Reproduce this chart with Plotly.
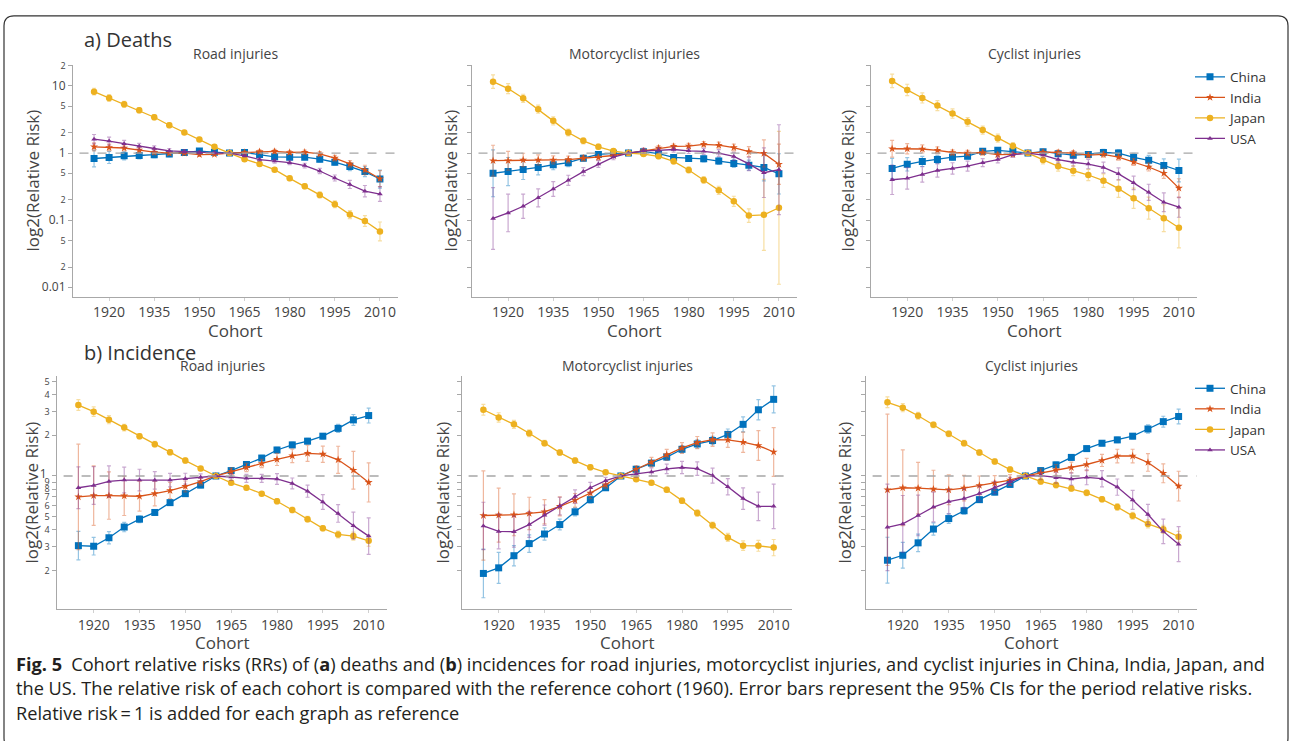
import plotly.graph_objects as go

# ---------------- data ----------------
cohorts = [1915, 1920, 1925, 1930, 1935, 1940, 1945, 1950, 1955, 1960,
           1965, 1970, 1975, 1980, 1985, 1990, 1995, 2000, 2005, 2010]
countries = ["China", "India", "Japan", "USA"]
x_tick_labels = [1920, 1935, 1950, 1965, 1980, 1995, 2010]

# a) Deaths - Road injuries (relative risk)
deaths_road_china = [0.83, 0.86, 0.91, 0.92, 0.945, 0.97, 1.02, 1.07, 1.03, 1.0, 1.02, 0.955, 0.88, 0.87, 0.87, 0.81, 0.73, 0.63, 0.53, 0.41]
deaths_road_india = [1.24, 1.21, 1.19, 1.11, 1.03, 1.0, 1.0, 0.945, 0.955, 1.0, 1.02, 1.05, 1.06, 1.02, 1.03, 0.97, 0.84, 0.69, 0.56, 0.415]
deaths_road_japan = [8.24, 6.63, 5.34, 4.35, 3.42, 2.6, 2.03, 1.6, 1.24, 1.0, 0.81, 0.69, 0.565, 0.42, 0.32, 0.238, 0.173, 0.121, 0.097, 0.068]
deaths_road_usa = [1.61, 1.51, 1.38, 1.26, 1.17, 1.08, 1.05, 1.02, 1.01, 1.0, 0.91, 0.80, 0.76, 0.72, 0.65, 0.54, 0.425, 0.34, 0.27, 0.245]
# 95% CI half-widths in log10 units
deaths_road_china_ci = [0.125, 0.09, 0.06, 0.05, 0.045, 0.04, 0.035, 0.03, 0.025, 0, 0.025, 0.03, 0.03, 0.03, 0.035, 0.04, 0.045, 0.06, 0.075, 0.135]
deaths_road_india_ci = [0.06, 0.05, 0.045, 0.04, 0.035, 0.03, 0.025, 0.025, 0.02, 0, 0.02, 0.025, 0.03, 0.03, 0.03, 0.035, 0.04, 0.05, 0.07, 0.12]
deaths_road_japan_ci = [0.05, 0.05, 0.045, 0.04, 0.04, 0.035, 0.03, 0.03, 0.025, 0, 0.025, 0.03, 0.03, 0.035, 0.04, 0.045, 0.05, 0.06, 0.08, 0.14]
deaths_road_usa_ci = [0.07, 0.06, 0.05, 0.045, 0.04, 0.035, 0.03, 0.025, 0.02, 0, 0.02, 0.025, 0.03, 0.03, 0.035, 0.04, 0.045, 0.06, 0.085, 0.11]

# a) Deaths - Motorcyclist injuries
deaths_moto_china = [0.50, 0.53, 0.57, 0.61, 0.67, 0.72, 0.84, 0.955, 0.99, 1.0, 1.05, 0.98, 0.86, 0.83, 0.82, 0.76, 0.70, 0.66, 0.61, 0.49]
deaths_moto_india = [0.77, 0.77, 0.79, 0.79, 0.79, 0.80, 0.84, 0.86, 0.92, 1.0, 1.08, 1.19, 1.26, 1.27, 1.35, 1.31, 1.21, 1.05, 0.99, 0.68]
deaths_moto_japan = [11.6, 9.13, 6.56, 4.5, 3.02, 2.03, 1.52, 1.24, 1.07, 1.0, 0.966, 0.893, 0.752, 0.56, 0.397, 0.279, 0.191, 0.117, 0.12, 0.153]
deaths_moto_usa = [0.106, 0.128, 0.161, 0.215, 0.292, 0.393, 0.53, 0.686, 0.872, 1.0, 1.08, 1.10, 1.13, 1.08, 1.06, 1.0, 0.89, 0.69, 0.51, 0.565]
deaths_moto_china_ci = [0.35, 0.21, 0.15, 0.11, 0.075, 0.06, 0.04, 0.035, 0.03, 0, 0.03, 0.035, 0.04, 0.04, 0.045, 0.05, 0.06, 0.075, 0.2, 0.3]
deaths_moto_india_ci = [0.23, 0.14, 0.1, 0.075, 0.06, 0.05, 0.04, 0.035, 0.03, 0, 0.03, 0.035, 0.035, 0.04, 0.04, 0.045, 0.05, 0.075, 0.2, 0.3]
deaths_moto_japan_ci = [0.1, 0.075, 0.06, 0.06, 0.06, 0.05, 0.045, 0.04, 0.035, 0, 0.03, 0.035, 0.04, 0.045, 0.05, 0.06, 0.075, 0.1, 0.53, 1.14]
deaths_moto_usa_ci = [0.46, 0.28, 0.18, 0.135, 0.11, 0.075, 0.06, 0.05, 0.04, 0, 0.04, 0.04, 0.04, 0.04, 0.045, 0.05, 0.06, 0.1, 0.37, 0.67]

# a) Deaths - Cyclist injuries
deaths_cyc_china = [0.59, 0.68, 0.75, 0.805, 0.87, 0.90, 1.06, 1.10, 1.06, 1.0, 1.05, 0.98, 0.93, 0.955, 1.02, 1.0, 0.86, 0.78, 0.65, 0.55]
deaths_cyc_india = [1.16, 1.16, 1.15, 1.10, 1.02, 1.0, 1.02, 0.945, 0.955, 1.0, 1.03, 1.02, 1.0, 0.93, 0.955, 0.87, 0.735, 0.62, 0.50, 0.30]
deaths_cyc_japan = [11.9, 8.73, 6.63, 5.1, 3.88, 2.92, 2.2, 1.67, 1.28, 1.0, 0.79, 0.634, 0.547, 0.471, 0.388, 0.295, 0.212, 0.151, 0.107, 0.077]
deaths_cyc_usa = [0.40, 0.42, 0.48, 0.55, 0.59, 0.64, 0.72, 0.80, 0.945, 1.0, 0.935, 0.80, 0.73, 0.686, 0.61, 0.49, 0.36, 0.26, 0.185, 0.156]
deaths_cyc_china_ci = [0.15, 0.1, 0.075, 0.06, 0.045, 0.04, 0.04, 0.04, 0.035, 0, 0.035, 0.04, 0.04, 0.04, 0.045, 0.05, 0.06, 0.075, 0.1, 0.17]
deaths_cyc_india_ci = [0.125, 0.075, 0.06, 0.05, 0.04, 0.04, 0.04, 0.035, 0.03, 0, 0.03, 0.035, 0.035, 0.04, 0.04, 0.045, 0.05, 0.06, 0.075, 0.14]
deaths_cyc_japan_ci = [0.1, 0.085, 0.075, 0.075, 0.07, 0.065, 0.06, 0.06, 0.05, 0, 0.06, 0.07, 0.075, 0.085, 0.1, 0.13, 0.15, 0.165, 0.2, 0.3]
deaths_cyc_usa_ci = [0.22, 0.16, 0.115, 0.1, 0.085, 0.075, 0.06, 0.05, 0.04, 0, 0.04, 0.05, 0.06, 0.07, 0.08, 0.09, 0.1, 0.12, 0.14, 0.15]

# b) Incidence - Road injuries
inc_road_china = [0.305, 0.302, 0.349, 0.419, 0.479, 0.537, 0.635, 0.74, 0.856, 1.0, 1.096, 1.216, 1.357, 1.557, 1.698, 1.81, 1.97, 2.25, 2.6, 2.8]
inc_road_india = [0.70, 0.716, 0.716, 0.712, 0.708, 0.74, 0.78, 0.837, 0.907, 1.0, 1.078, 1.155, 1.237, 1.326, 1.41, 1.47, 1.45, 1.318, 1.103, 0.896]
inc_road_japan = [3.35, 2.99, 2.61, 2.28, 1.97, 1.72, 1.50, 1.30, 1.135, 1.0, 0.89, 0.818, 0.74, 0.65, 0.56, 0.479, 0.41, 0.369, 0.359, 0.331]
inc_road_usa = [0.818, 0.851, 0.912, 0.933, 0.933, 0.928, 0.933, 0.955, 0.977, 1.0, 0.983, 0.96, 0.96, 0.95, 0.881, 0.772, 0.642, 0.528, 0.429, 0.359]
inc_road_china_ci = [0.105, 0.065, 0.045, 0.035, 0.025, 0.02, 0.02, 0.02, 0.02, 0, 0.02, 0.02, 0.02, 0.02, 0.02, 0.02, 0.02, 0.03, 0.04, 0.055]
inc_road_india_ci = [0.39, 0.22, 0.175, 0.145, 0.11, 0.09, 0.06, 0.04, 0.025, 0, 0.025, 0.03, 0.03, 0.045, 0.05, 0.06, 0.06, 0.1, 0.14, 0.145]
inc_road_japan_ci = [0.04, 0.035, 0.03, 0.025, 0.02, 0.02, 0.02, 0.02, 0.015, 0, 0.015, 0.015, 0.015, 0.02, 0.02, 0.02, 0.02, 0.025, 0.03, 0.04]
inc_road_usa_ci = [0.155, 0.14, 0.115, 0.095, 0.08, 0.065, 0.05, 0.04, 0.025, 0, 0.025, 0.03, 0.03, 0.04, 0.04, 0.045, 0.055, 0.065, 0.1, 0.135]

# b) Incidence - Motorcyclist injuries
inc_moto_china = [0.19, 0.209, 0.257, 0.316, 0.372, 0.437, 0.543, 0.668, 0.818, 1.0, 1.122, 1.245, 1.38, 1.576, 1.727, 1.83, 2.03, 2.41, 3.09, 3.69]
inc_moto_india = [0.51, 0.513, 0.516, 0.528, 0.543, 0.596, 0.661, 0.746, 0.861, 1.0, 1.122, 1.266, 1.437, 1.612, 1.767, 1.86, 1.85, 1.778, 1.679, 1.505]
inc_moto_japan = [3.09, 2.71, 2.41, 2.07, 1.75, 1.49, 1.30, 1.16, 1.065, 1.0, 0.944, 0.891, 0.79, 0.657, 0.531, 0.431, 0.351, 0.305, 0.304, 0.295]
inc_moto_usa = [0.427, 0.389, 0.387, 0.437, 0.513, 0.599, 0.704, 0.818, 0.923, 1.0, 1.035, 1.072, 1.128, 1.155, 1.135, 1.006, 0.832, 0.68, 0.596, 0.596]
inc_moto_china_ci = [0.18, 0.115, 0.075, 0.065, 0.045, 0.04, 0.03, 0.025, 0.02, 0, 0.02, 0.02, 0.025, 0.025, 0.03, 0.03, 0.04, 0.055, 0.075, 0.1]
inc_moto_india_ci = [0.33, 0.2, 0.155, 0.12, 0.09, 0.07, 0.05, 0.04, 0.025, 0, 0.025, 0.035, 0.04, 0.04, 0.045, 0.05, 0.055, 0.075, 0.11, 0.18]
inc_moto_japan_ci = [0.04, 0.035, 0.03, 0.025, 0.02, 0.02, 0.02, 0.02, 0.015, 0, 0.015, 0.015, 0.02, 0.02, 0.025, 0.025, 0.03, 0.035, 0.04, 0.06]
inc_moto_usa_ci = [0.175, 0.13, 0.115, 0.095, 0.075, 0.065, 0.05, 0.04, 0.025, 0, 0.025, 0.03, 0.035, 0.045, 0.05, 0.055, 0.06, 0.08, 0.105, 0.165]

# b) Incidence - Cyclist injuries
inc_cyc_china = [0.238, 0.259, 0.32, 0.405, 0.484, 0.553, 0.668, 0.759, 0.866, 1.0, 1.096, 1.209, 1.372, 1.594, 1.747, 1.85, 1.97, 2.226, 2.524, 2.754]
inc_cyc_india = [0.79, 0.818, 0.813, 0.799, 0.79, 0.813, 0.851, 0.886, 0.933, 1.0, 1.053, 1.109, 1.155, 1.216, 1.303, 1.405, 1.405, 1.259, 1.047, 0.841]
inc_cyc_japan = [3.51, 3.2, 2.79, 2.39, 2.05, 1.75, 1.49, 1.28, 1.115, 1.0, 0.912, 0.856, 0.808, 0.75, 0.672, 0.589, 0.507, 0.442, 0.403, 0.355]
inc_cyc_usa = [0.417, 0.442, 0.51, 0.589, 0.646, 0.68, 0.741, 0.822, 0.912, 1.0, 1.006, 0.972, 0.95, 0.977, 0.955, 0.827, 0.665, 0.519, 0.389, 0.313]
inc_cyc_china_ci = [0.17, 0.095, 0.065, 0.045, 0.035, 0.025, 0.02, 0.02, 0.02, 0, 0.02, 0.02, 0.02, 0.02, 0.02, 0.02, 0.02, 0.03, 0.04, 0.055]
inc_cyc_india_ci = [0.56, 0.28, 0.19, 0.14, 0.11, 0.095, 0.07, 0.055, 0.04, 0, 0.03, 0.04, 0.04, 0.045, 0.045, 0.05, 0.05, 0.065, 0.07, 0.11]
inc_cyc_japan_ci = [0.04, 0.03, 0.025, 0.02, 0.02, 0.02, 0.02, 0.02, 0.02, 0, 0.02, 0.02, 0.02, 0.02, 0.02, 0.025, 0.025, 0.03, 0.03, 0.04]
inc_cyc_usa_ci = [0.32, 0.21, 0.15, 0.11, 0.09, 0.07, 0.055, 0.045, 0.03, 0, 0.03, 0.04, 0.045, 0.055, 0.06, 0.06, 0.07, 0.075, 0.09, 0.13]

panel_titles = ["Road injuries", "Motorcyclist injuries", "Cyclist injuries"]
row_titles = ["a) Deaths", "b) Incidence"]

# ---------------- style ----------------
W, H = 1290, 741
colors = {"China": "#0072BD", "India": "#D95319", "Japan": "#EDB120", "USA": "#7E2F8E"}
err_colors = {"China": "rgba(0,114,189,0.42)", "India": "rgba(217,83,25,0.42)",
              "Japan": "rgba(237,177,32,0.42)", "USA": "rgba(126,47,142,0.42)"}
symbols = {"China": "square", "India": "star", "Japan": "circle", "USA": "triangle-up"}
msize = {"China": 7, "India": 6, "Japan": 6.5, "USA": 5}


def px(x):
    return x / W


def py(y):
    return 1 - y / H


# panel boxes in pixels: (left, right, top, bottom)
boxes = [(73, 398, 59, 293), (472, 797, 59, 293), (871, 1197, 59, 293),
         (57, 387, 373, 608), (462, 792, 373, 608), (866, 1197, 373, 608)]
ytitle_x = [33, 451, 848, 32, 443, 845]

panels = [
    [deaths_road_china, deaths_road_india, deaths_road_japan, deaths_road_usa],
    [deaths_moto_china, deaths_moto_india, deaths_moto_japan, deaths_moto_usa],
    [deaths_cyc_china, deaths_cyc_india, deaths_cyc_japan, deaths_cyc_usa],
    [inc_road_china, inc_road_india, inc_road_japan, inc_road_usa],
    [inc_moto_china, inc_moto_india, inc_moto_japan, inc_moto_usa],
    [inc_cyc_china, inc_cyc_india, inc_cyc_japan, inc_cyc_usa],
]
panel_cis = [
    [deaths_road_china_ci, deaths_road_india_ci, deaths_road_japan_ci, deaths_road_usa_ci],
    [deaths_moto_china_ci, deaths_moto_india_ci, deaths_moto_japan_ci, deaths_moto_usa_ci],
    [deaths_cyc_china_ci, deaths_cyc_india_ci, deaths_cyc_japan_ci, deaths_cyc_usa_ci],
    [inc_road_china_ci, inc_road_india_ci, inc_road_japan_ci, inc_road_usa_ci],
    [inc_moto_china_ci, inc_moto_india_ci, inc_moto_japan_ci, inc_moto_usa_ci],
    [inc_cyc_china_ci, inc_cyc_india_ci, inc_cyc_japan_ci, inc_cyc_usa_ci],
]

fig = go.Figure()

for p in range(6):
    ax = "" if p == 0 else str(p + 1)
    for c, name in enumerate(countries):
        vals = panels[p][c]
        ci = panel_cis[p][c]
        up = [v * 10 ** h - v for v, h in zip(vals, ci)]
        lo = [v - v * 10 ** (-h) for v, h in zip(vals, ci)]
        fig.add_trace(go.Scatter(
            x=cohorts, y=vals, name=name, mode="lines+markers",
            xaxis="x" + ax, yaxis="y" + ax,
            line=dict(color=colors[name], width=1.3),
            marker=dict(color=colors[name], symbol=symbols[name], size=msize[name]),
            error_y=dict(type="data", symmetric=False, array=up, arrayminus=lo,
                         color=err_colors[name], thickness=1.2, width=2),
            showlegend=(p in (0, 3)),
            legend="legend" if p < 3 else "legend2",
        ))

axis_common = dict(showline=True, linecolor="#a8a8a8", linewidth=1, showgrid=False,
                   zeroline=False, ticks="outside", tickcolor="#a8a8a8")
layout = {}
for p in range(6):
    l, r, t, b = boxes[p]
    ax = "" if p == 0 else str(p + 1)
    top = p < 3
    layout["xaxis" + ax] = dict(
        axis_common, domain=[px(l), px(r)], anchor="y" + ax, range=[1908, 2016],
        tickvals=x_tick_labels, ticklen=3, tickcolor="#d0d0d0",
        tickfont=dict(family="Open Sans", size=14, color="#444"))
    layout["yaxis" + ax] = dict(
        axis_common, domain=[py(b), py(t)], anchor="x" + ax, type="log",
        range=[-2.14, 1.32] if top else [-0.985, 0.74],
        dtick="D2" if top else "D1", ticklen=4,
        showticklabels=(p in (0, 3)),
        tickfont=dict(family="Open Sans", size=12, color="#444"))

annotations = []
shapes = []
for p in range(6):
    l, r, t, b = boxes[p]
    ax = "" if p == 0 else str(p + 1)
    cx = (l + r) / 2
    # reference line RR = 1
    shapes.append(dict(type="line", xref="x" + ax + " domain", yref="y" + ax,
                       x0=0.02, x1=1, y0=1, y1=1,
                       line=dict(color="#a6a6a6", width=1.3, dash="dash")))
    annotations.append(dict(x=px(cx), y=py(t - 11), xref="paper", yref="paper",
                            text=panel_titles[p % 3], showarrow=False,
                            font=dict(family="Open Sans", size=14, color="#444"),
                            xanchor="center", yanchor="middle"))
    annotations.append(dict(x=px(cx), y=py(b + 34), xref="paper", yref="paper",
                            text="Cohort", showarrow=False,
                            font=dict(family="Open Sans", size=17, color="#444"),
                            xanchor="center", yanchor="middle"))
    annotations.append(dict(x=px(ytitle_x[p]), y=py((t + b) / 2), xref="paper", yref="paper",
                            text="log2(Relative Risk)", showarrow=False, textangle=-90,
                            font=dict(family="Open Sans", size=17, color="#444"),
                            xanchor="center", yanchor="middle"))

for txt, yy in zip(row_titles, [34, 349]):
    annotations.append(dict(x=px(82), y=py(yy), xref="paper", yref="paper",
                            text=txt, showarrow=False,
                            font=dict(family="Open Sans", size=20, color="#333"),
                            xanchor="left", yanchor="middle"))

caption_lines = [
    "<b>Fig. 5</b>\u2002Cohort relative risks (RRs) of (<b>a</b>) deaths and (<b>b</b>) incidences for road injuries, "
    "motorcyclist injuries, and cyclist injuries in China, India, Japan, and",
    "the US. The relative risk of each cohort is compared with the reference cohort (1960). "
    "Error bars represent the 95% CIs for the period relative risks.",
    "Relative risk\u2009=\u20091 is added for each graph as reference",
]
for txt, yy in zip(caption_lines, [663, 688, 713]):
    annotations.append(dict(x=px(14), y=py(yy), xref="paper", yref="paper",
                            text=txt, showarrow=False,
                            font=dict(family="Open Sans", size=18.2, color="#231f20"),
                            xanchor="left", yanchor="middle"))

# outer rounded frame
x0, x1, y0, y1, rr = 4, 1288, 10, 748, 10
path = (f"M {px(x0)},{py(y0 + rr)} Q {px(x0)},{py(y0)} {px(x0 + rr)},{py(y0)} "
        f"L {px(x1 - rr)},{py(y0)} Q {px(x1)},{py(y0)} {px(x1)},{py(y0 + rr)} "
        f"L {px(x1)},{py(y1 - rr)} Q {px(x1)},{py(y1)} {px(x1 - rr)},{py(y1)} "
        f"L {px(x0 + rr)},{py(y1)} Q {px(x0)},{py(y1)} {px(x0)},{py(y1 - rr)} Z")
shapes.append(dict(type="path", xref="paper", yref="paper", path=path,
                   line=dict(color="#333", width=1.2)))

legend_style = dict(xanchor="left", yanchor="top", bgcolor="rgba(0,0,0,0)",
                    font=dict(family="Open Sans", size=13.5, color="#333"),
                    tracegroupgap=0)

fig.update_layout(
    width=W, height=H, margin=dict(l=0, r=0, t=0, b=0),
    paper_bgcolor="white", plot_bgcolor="white",
    font=dict(family="Open Sans"),
    annotations=annotations, shapes=shapes,
    legend=dict(legend_style, x=px(1190), y=py(56)),
    legend2=dict(legend_style, x=px(1190), y=py(370)),
    **layout,
)

fig.write_html("out.html", config={"displayModeBar": False},
               post_script="document.body.style.margin='0';document.body.style.overflow='hidden';")
